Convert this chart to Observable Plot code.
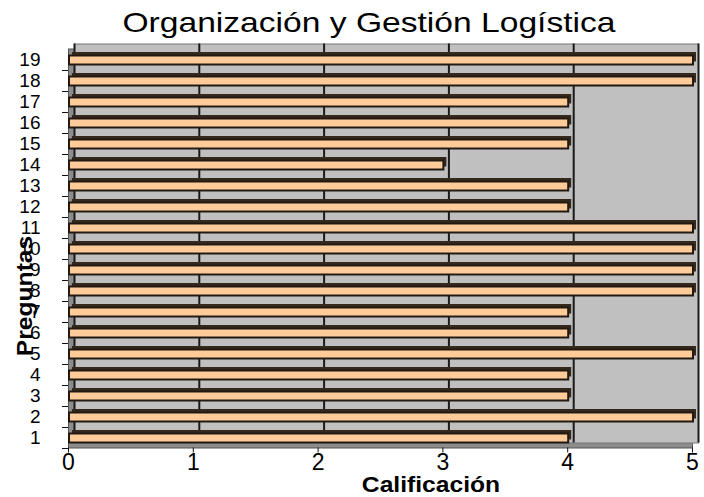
<!DOCTYPE html>
<html>
<head>
<meta charset="utf-8">
<script src="https://cdn.jsdelivr.net/npm/d3@7"></script>
<script src="https://cdn.jsdelivr.net/npm/@observablehq/plot@0.6"></script>
<style>
  body { margin: 0; background: #fff; }
  #wrap { position: relative; width: 704px; height: 497px; overflow: hidden; }
  #title { height: 37px; padding-top: 3px; width: 704px; text-align: left; font-family: "Liberation Sans", Arial, sans-serif; font-size: 28px; line-height: 40px; color: #000; position: relative; }
  #title span { position: absolute; left: 369px; top: 3px; transform: translateX(-50%) scaleX(1.2); white-space: nowrap; }
  #chart svg { display: block; }
  .axlab { position: absolute; font-family: "Liberation Sans", Arial, sans-serif; font-weight: bold; color: #000; white-space: nowrap; line-height: 1; }
  #xlab { left: 431px; top: 485px; font-size: 22px; transform: translate(-50%, -50%) scaleX(1.12); }
  #ylab { left: 25px; top: 296px; font-size: 22px; transform: translate(-50%, -50%) rotate(-90deg) scaleX(1.12); }
</style>
</head>
<body>
<div id="wrap">
  <div id="title"><span id="titletext"></span></div>
  <div id="chart"></div>
  <div class="axlab" id="xlab"></div>
  <div class="axlab" id="ylab"></div>
</div>
<script>
const titulo = "Organización y Gestión Logística";
const preguntas = [1, 2, 3, 4, 5, 6, 7, 8, 9, 10, 11, 12, 13, 14, 15, 16, 17, 18, 19];
const calificaciones = [4, 5, 4, 4, 5, 4, 4, 5, 5, 5, 5, 4, 4, 3, 4, 4, 4, 5, 5];
const xTicks = [0, 1, 2, 3, 4, 5];
const xLabel = "Calificación";
const yLabel = "Preguntas";

document.getElementById("titletext").textContent = titulo;
document.getElementById("xlab").textContent = xLabel;
document.getElementById("ylab").textContent = yLabel;

const data = preguntas.map((p, i) => ({pregunta: p, valor: calificaciones[i]}));
const yDomain = preguntas.slice().reverse();

const chart = Plot.plot({
  width: 704,
  height: 457,
  marginLeft: 68,
  marginRight: 12,
  marginTop: 8.5,
  marginBottom: 49.5,
  style: {fontFamily: "Liberation Sans, Arial, sans-serif", color: "#000", background: "transparent", overflow: "visible"},
  x: {domain: [0, 5], axis: null},
  y: {domain: yDomain, padding: 0, axis: null},
  marks: [
    Plot.frame({fill: "#8c8c8c", stroke: "#555", strokeWidth: 1}),
    Plot.frame({fill: "#c0c0c0", stroke: "#777", strokeWidth: 1, dx: 6, dy: -5}),
    Plot.ruleX(xTicks, {stroke: "#1a1a1a", strokeWidth: 2, dx: 6, dy: -5}),
    Plot.barX(data, {x: "valor", y: "pregunta", fill: "#35291d", insetTop: 6, insetBottom: 5.5, dx: 4, dy: -3}),
    Plot.barX(data, {x: "valor", y: "pregunta", fill: "#ffcc99", stroke: "#221a12", strokeWidth: 2, insetTop: 6.5, insetBottom: 5.5, dx: 1}),
    Plot.axisY({tickSize: 0, tickPadding: 28, fontSize: 19, textAnchor: "end", label: null}),
    Plot.axisY({tickSize: 6, text: null, dy: 10.5, stroke: "#111", label: null}),
    Plot.axisX(xTicks, {tickSize: 5, tickPadding: 1, fontSize: 23, stroke: "#111", tickFormat: d3.format("d"), label: null})
  ]
});
document.getElementById("chart").appendChild(chart);
</script>
</body>
</html>
